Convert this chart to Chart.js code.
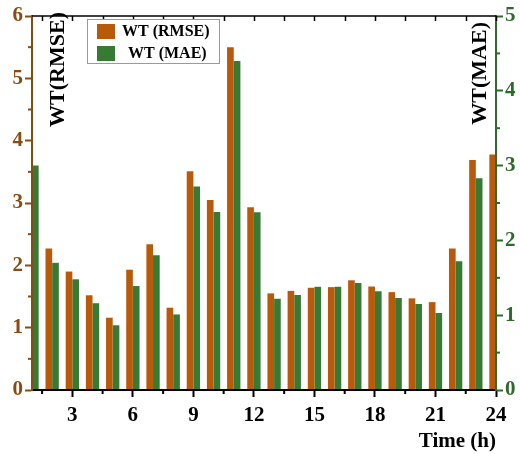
<!DOCTYPE html>
<html>
<head>
<meta charset="utf-8">
<script src="https://cdn.jsdelivr.net/npm/chart.js@4"></script>
<style>
  html, body { margin: 0; padding: 0; background: #fff; }
  #wrap { width: 520px; height: 454px; position: relative; }
</style>
</head>
<body>
<div id="wrap"><canvas id="chart"></canvas></div>
<script>
// hours of the day
const hours = [1, 2, 3, 4, 5, 6, 7, 8, 9, 10, 11, 12, 13, 14, 15, 16, 17, 18, 19, 20, 21, 22, 23, 24];
// RMSE (left axis) - hour 1 bar falls outside the frame
const rmse = [null, 2.27, 1.90, 1.52, 1.16, 1.93, 2.34, 1.32, 3.51, 3.05, 5.50, 2.93,
              1.55, 1.59, 1.64, 1.65, 1.76, 1.66, 1.57, 1.47, 1.41, 2.27, 3.69, 3.78];
// MAE (right axis) - hour 24 bar falls outside the frame
const mae = [3.00, 1.70, 1.48, 1.16, 0.865, 1.39, 1.80, 1.01, 2.72, 2.38, 4.40, 2.375,
             1.22, 1.27, 1.38, 1.38, 1.43, 1.32, 1.23, 1.15, 1.03, 1.72, 2.83, null];

const xTicks = [3, 6, 9, 12, 15, 18, 21, 24];
const leftTicks = [0, 1, 2, 3, 4, 5, 6];
const rightTicks = [0, 1, 2, 3, 4, 5];

const ORANGE = '#b95a0b';
const GREEN = '#367a33';
const BROWN = '#8a4b12';
const DKGREEN = '#2e6a2b';
const SERIF = '"Liberation Serif", "Times New Roman", serif';

// frame, minor ticks, in-plot axis titles and legend
const framePlugin = {
    id: 'framePlugin',
    afterDraw(chart) {
        const { ctx, chartArea: a, scales } = chart;
        const x = scales.x, y = scales.y, y1 = scales.y1;
        ctx.save();

        // top border with inward ticks
        ctx.strokeStyle = '#000';
        ctx.lineWidth = 1.5;
        ctx.beginPath();
        ctx.moveTo(a.left, a.top);
        ctx.lineTo(a.right, a.top);
        ctx.stroke();
        for (let v = 1.5; v <= 24; v += 1.5) {
            const px = Math.round(x.getPixelForValue(v)) + 0.5;
            ctx.beginPath();
            ctx.moveTo(px, a.top);
            ctx.lineTo(px, a.top + 5);
            ctx.stroke();
        }

        // bottom minor ticks
        ctx.lineWidth = 2;
        for (let v = 1.5; v < 24; v += 3) {
            const px = x.getPixelForValue(v);
            ctx.beginPath();
            ctx.moveTo(px, a.bottom);
            ctx.lineTo(px, a.bottom + 4);
            ctx.stroke();
        }

        // left minor ticks
        ctx.strokeStyle = BROWN;
        for (let v = 0.5; v < 6; v += 1) {
            const py = y.getPixelForValue(v);
            ctx.beginPath();
            ctx.moveTo(a.left, py);
            ctx.lineTo(a.left - 4, py);
            ctx.stroke();
        }

        // right minor ticks
        ctx.strokeStyle = DKGREEN;
        for (let v = 0.5; v < 5; v += 1) {
            const py = y1.getPixelForValue(v);
            ctx.beginPath();
            ctx.moveTo(a.right, py);
            ctx.lineTo(a.right + 4, py);
            ctx.stroke();
        }

        // axis titles inside plot
        ctx.fillStyle = '#000';
        ctx.font = 'bold 22px ' + SERIF;
        ctx.textAlign = 'right';
        ctx.textBaseline = 'middle';
        ctx.save();
        ctx.translate(a.left + 26, a.top - 4);
        ctx.rotate(-Math.PI / 2);
        ctx.fillText('WT(RMSE)', 0, 0);
        ctx.restore();
        ctx.save();
        ctx.translate(a.right - 16, a.top + 6);
        ctx.rotate(-Math.PI / 2);
        ctx.fillText('WT(MAE)', 0, 0);
        ctx.restore();

        // legend box
        const lx = a.left + 55, ly = a.top + 3;
        ctx.strokeStyle = '#9a9a9a';
        ctx.lineWidth = 1;
        ctx.fillStyle = '#fff';
        ctx.fillRect(lx, ly, 132, 44);
        ctx.strokeRect(lx + 0.5, ly + 0.5, 132, 44);
        ctx.fillStyle = ORANGE;
        ctx.fillRect(lx + 10, ly + 5, 18, 15);
        ctx.fillStyle = GREEN;
        ctx.fillRect(lx + 10, ly + 27, 18, 15);
        ctx.fillStyle = '#000';
        ctx.font = 'bold 16px ' + SERIF;
        ctx.textAlign = 'left';
        ctx.textBaseline = 'middle';
        ctx.fillText(chart.data.datasets[0].label, lx + 35, ly + 13);
        ctx.fillText(chart.data.datasets[1].label, lx + 41, ly + 35);

        ctx.restore();
    }
};

new Chart(document.getElementById('chart'), {
    type: 'bar',
    data: {
        labels: hours,
        datasets: [
            {
                label: 'WT (RMSE)',
                data: rmse,
                yAxisID: 'y',
                backgroundColor: ORANGE,
                borderWidth: 0,
                categoryPercentage: 0.66,
                barPercentage: 1.0,
                clip: 0
            },
            {
                label: 'WT (MAE)',
                data: mae,
                yAxisID: 'y1',
                backgroundColor: GREEN,
                borderWidth: 0,
                categoryPercentage: 0.66,
                barPercentage: 1.0,
                clip: 0
            }
        ]
    },
    options: {
        responsive: true,
        maintainAspectRatio: false,
        animation: false,
        layout: { padding: { top: 16, left: 0, right: 0, bottom: 0 } },
        plugins: {
            legend: { display: false },
            tooltip: { enabled: false }
        },
        scales: {
            x: {
                type: 'linear',
                position: 'bottom',
                offset: false,
                min: 1,
                max: 24,
                afterBuildTicks: (scale) => {
                    scale.ticks = xTicks.map(v => ({ value: v }));
                },
                afterFit: (scale) => { scale.height = 64; },
                grid: { offset: false, drawOnChartArea: false, tickLength: 7, tickWidth: 2, tickColor: '#000', z: 1 },
                border: { color: '#000', width: 2, z: 1 },
                ticks: {
                    color: '#000',
                    padding: 6,
                    autoSkip: false,
                    maxRotation: 0,
                    font: { family: SERIF, size: 21, weight: 'bold' }
                },
                title: {
                    display: true,
                    text: 'Time (h)',
                    align: 'end',
                    color: '#000',
                    padding: { top: 0, bottom: 0 },
                    font: { family: SERIF, size: 21, weight: 'bold' }
                }
            },
            y: {
                position: 'left',
                min: 0,
                max: 6,
                afterBuildTicks: (scale) => {
                    scale.ticks = leftTicks.map(v => ({ value: v }));
                },
                afterFit: (scale) => { scale.width = 32; },
                grid: { drawOnChartArea: false, tickLength: 7, tickWidth: 2, tickColor: BROWN, z: 1 },
                border: { color: BROWN, width: 2, z: 1 },
                ticks: {
                    color: BROWN,
                    padding: 2,
                    font: { family: SERIF, size: 21, weight: 'bold' }
                }
            },
            y1: {
                position: 'right',
                min: 0,
                max: 5,
                afterBuildTicks: (scale) => {
                    scale.ticks = rightTicks.map(v => ({ value: v }));
                },
                afterFit: (scale) => { scale.width = 24; },
                grid: { drawOnChartArea: false, tickLength: 7, tickWidth: 2, tickColor: DKGREEN, z: 1 },
                border: { color: DKGREEN, width: 2, z: 1 },
                ticks: {
                    color: DKGREEN,
                    padding: 2,
                    font: { family: SERIF, size: 21, weight: 'bold' }
                }
            }
        }
    },
    plugins: [framePlugin]
});
</script>
</body>
</html>
